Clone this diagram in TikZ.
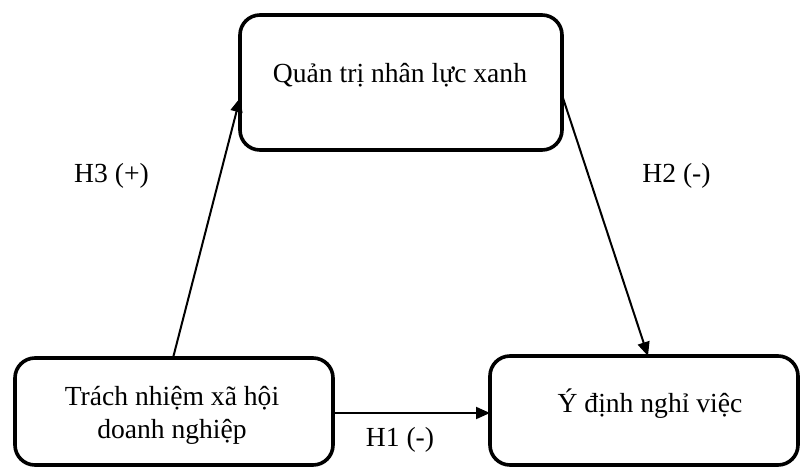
\documentclass[tikz,border=0pt]{standalone}
\usepackage{fontspec}
\setmainfont{Liberation Serif}
\usetikzlibrary{arrows.meta}
\begin{document}
\begin{tikzpicture}[x=0.5pt,y=-0.5pt,
  box/.style={draw=black, line width=1.8pt, rounded corners=10pt},
  txt/.style={font=\fontsize{13.8}{16.5}\selectfont, inner sep=0pt},
  link/.style={draw=black, line width=1pt, -{Triangle[length=7pt,width=6pt]}}]
\useasboundingbox[fill=white] (0,0) rectangle (800,467);
% boxes
\draw[box] (240,15) rectangle (562,150);
\draw[box] (15,358) rectangle (333,465);
\draw[box] (490,356) rectangle (798,465);
\coordinate (topL) at (240,98);
\coordinate (topR) at (562,95);
\coordinate (blT) at (173,358);
\coordinate (blR) at (333,413);
\coordinate (brT) at (648,356);
\coordinate (brL) at (490,413);
% texts
\node[txt, anchor=base] (qt) at (400,82) {Quản trị nhân lực xanh};
\node[txt, align=center] (tn) at (172,415) {Trách nhiệm xã hội\\doanh nghiệp};
\node[txt, anchor=base] (yd) at (650,412) {Ý định nghỉ việc};
% arrows
\draw[link] (blT) -- (topL);
\draw[link] (topR) -- (brT);
\draw[link] (blR) -- (brL);
% labels
\node[txt] (h3) at (111.5,176) {H3 (+)};
\node[txt] (h2) at (676.5,176) {H2 (-)};
\node[txt] (h1) at (400,440) {H1 (-)};
\end{tikzpicture}
\end{document}
